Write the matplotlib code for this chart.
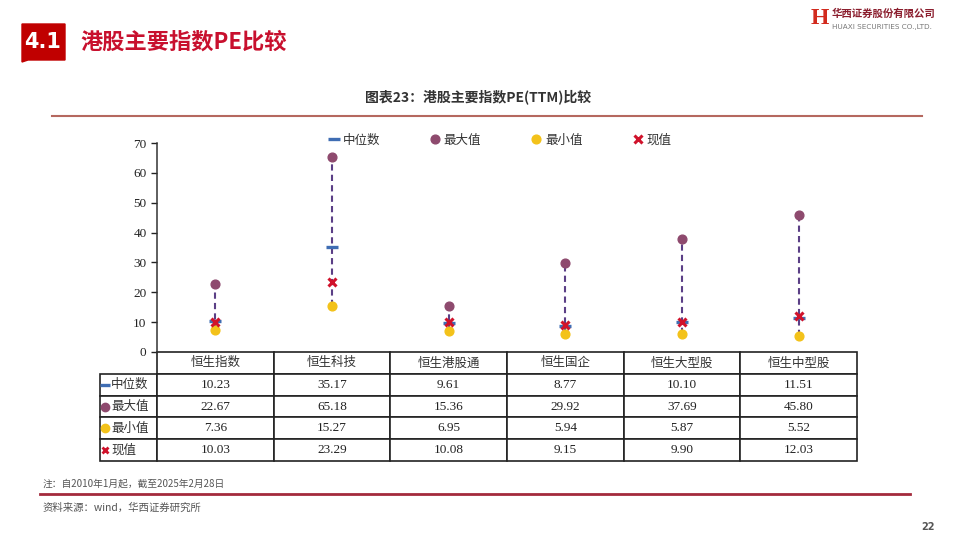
import matplotlib.pyplot as plt
import matplotlib.patches as mpatches
from matplotlib.lines import Line2D
import numpy as np

plt.rcParams['font.family'] = ['Liberation Serif', 'Noto Sans CJK SC', 'DejaVu Sans']

cats = ['恒生指数', '恒生科技', '恒生港股通', '恒生国企', '恒生大型股', '恒生中型股']
medians = [10.23, 35.17, 9.61, 8.77, 10.10, 11.51]
maxs = [22.67, 65.18, 15.36, 29.92, 37.69, 45.80]
mins = [7.36, 15.27, 6.95, 5.94, 5.87, 5.52]
current = [10.03, 23.29, 10.08, 9.15, 9.90, 12.03]
row_names = ['中位数', '最大值', '最小值', '现值']

med_c = '#3F6DB3'
max_c = '#8E4A6E'
min_c = '#F3C21A'
cur_c = '#D0122B'
dash_c = '#5B3F86'

W, H = 960, 542
fig = plt.figure(figsize=(W / 100, H / 100), dpi=100)
cjk = ['Noto Sans CJK SC', 'DejaVu Sans']

# page header
fig.patches.append(mpatches.Polygon([(22 / W, 1 - 24 / H), (65 / W, 1 - 24 / H), (65 / W, 1 - 60 / H),
                                     (28 / W, 1 - 60 / H), (22 / W, 1 - 62 / H)],
                                    closed=True, transform=fig.transFigure, color='#C00000'))
fig.text(43 / W, 1 - 42 / H, '4.1', color='white', fontsize=15, fontweight='bold',
         family=['DejaVu Sans'], ha='center', va='center')
fig.text(80 / W, 1 - 42 / H, '港股主要指数PE比较', color='#C8102E', fontsize=16,
         fontweight='bold', family=cjk, ha='left', va='center')

# logo
fig.text(820 / W, 1 - 19 / H, 'H', color='#D22B1E', fontsize=17, fontweight='bold',
         family=['Liberation Serif'], ha='center', va='center')
fig.text(832 / W, 1 - 14 / H, '华西证券股份有限公司', color='#8B1E2E', fontsize=7.5,
         fontweight='bold', family=cjk, ha='left', va='center')
fig.text(832 / W, 1 - 27 / H, 'HUAXI SECURITIES CO.,LTD.', color='#777777', fontsize=5.2,
         family=['DejaVu Sans'], ha='left', va='center')

# chart title and rules
fig.text(478 / W, 1 - 97 / H, '图表23：港股主要指数PE(TTM)比较', color='#333333', fontsize=10,
         fontweight='bold', family=cjk, ha='center', va='center')
fig.add_artist(Line2D([52 / W, 922 / W], [1 - 116 / H, 1 - 116 / H], color='#B5685F', lw=1.5))
fig.add_artist(Line2D([40 / W, 910 / W], [1 - 494 / H, 1 - 494 / H], color='#A32A3C', lw=2))

fig.text(43 / W, 1 - 484 / H, '注：自2010年1月起，截至2025年2月28日', color='#555555',
         fontsize=7, family=cjk, ha='left', va='center')
fig.text(43 / W, 1 - 508 / H, '资料来源：wind，华西证券研究所', color='#555555',
         fontsize=7.5, family=cjk, ha='left', va='center')
fig.text(928 / W, 1 - 527 / H, '22', color='#555555', fontsize=7, fontweight='bold',
         family=['DejaVu Sans'], ha='center', va='center')

# chart
ax = fig.add_axes([157 / W, 1 - 352 / H, 700 / W, 209 / H])
x = np.arange(len(cats))
ax.vlines(x, mins, maxs, colors=dash_c, linestyles=(0, (3, 2)), lw=1.5, zorder=1)
ax.plot(x, maxs, 'o', color=max_c, ms=6.3, zorder=2)
ax.plot(x, mins, 'o', color=min_c, ms=6.3, zorder=2)
ax.plot(x, medians, '_', color=med_c, ms=8, mew=2.4, zorder=3)
ax.plot(x, current, 'x', color=cur_c, ms=5.5, mew=2.2, zorder=4)

ax.set_xlim(-0.5, len(cats) - 0.5)
ax.set_ylim(0, 70)
ax.set_yticks(np.arange(0, 71, 10))
ax.set_xticks([])
ax.tick_params(axis='y', labelsize=9.5, length=4, width=1, colors='#222222')
for s in ['top', 'right', 'bottom']:
    ax.spines[s].set_visible(False)
ax.spines['left'].set_color('#333333')
ax.spines['left'].set_linewidth(1.1)

handles = [
    Line2D([], [], marker='_', ls='none', color=med_c, ms=8, mew=2.4),
    Line2D([], [], marker='o', ls='none', color=max_c, ms=6.3),
    Line2D([], [], marker='o', ls='none', color=min_c, ms=6.3),
    Line2D([], [], marker='x', ls='none', color=cur_c, ms=5.5, mew=2.2),
]
leg = ax.legend(handles, row_names, loc='center', bbox_to_anchor=(0.49, 1.014), ncol=4,
                frameon=False, handlelength=0.8, handletextpad=0.3, columnspacing=4.0,
                prop={'family': cjk, 'size': 9})
for t in leg.get_texts():
    t.set_color('#333333')

# data table
tw = 757.0
cell_text = [[''] + ['%.2f' % v for v in vals] for vals in (medians, maxs, mins, current)]
tbl = ax.table(cellText=cell_text, colLabels=[''] + cats, cellLoc='center',
               colWidths=[57 / tw] + [700 / 6 / tw] * 6,
               bbox=[-57 / 700, -109 / 209, tw / 700, 109 / 209])
tbl.auto_set_font_size(False)
tbl.set_fontsize(9.5)
for (r, c), cell in tbl.get_celld().items():
    cell.set_linewidth(1.2)
    cell.set_edgecolor('#222222')
    cell.get_text().set_color('#222222')
    if r == 0:
        cell.get_text().set_fontfamily(cjk)
        cell.get_text().set_fontsize(9)
        cell.get_text().set_color('#333333')
tbl[0, 0].visible_edges = 'open'

row_h = 109 / 5 / 209
row_marks = [('_', med_c, 7, 2.4), ('o', max_c, 6, 1), ('o', min_c, 6, 1), ('x', cur_c, 5, 2)]
for i, (name, (m, col, ms, mew)) in enumerate(zip(row_names, row_marks)):
    yc = -row_h * (i + 1.5)
    ax.plot([(105 - 157) / 700], [yc], marker=m, color=col, ms=ms, mew=mew,
            transform=ax.transAxes, clip_on=False)
    ax.text((111 - 157) / 700, yc, name, transform=ax.transAxes, ha='left', va='center',
            fontsize=9, family=cjk, color='#333333')

fig.savefig('out.png', dpi=100)
